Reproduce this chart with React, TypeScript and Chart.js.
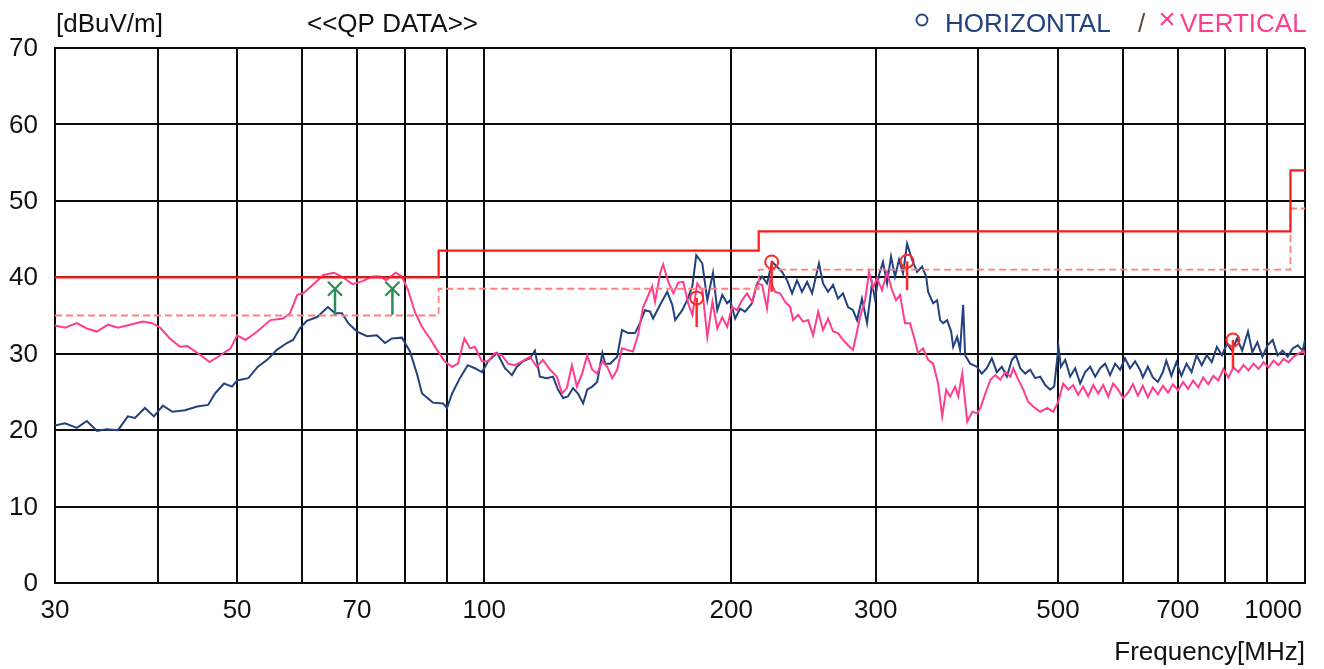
import React, { useEffect, useRef } from 'react';
import { Chart, registerables } from 'chart.js';

Chart.register(...registerables);

// ---------- data ----------
const xGridFreqs = [30, 40, 50, 60, 70, 80, 90, 100, 200, 300, 400, 500, 600, 700, 800, 900, 1000];
const xLabelFreqs = [30, 50, 70, 100, 200, 300, 500, 700, 1000];
const xLabelTexts = ['30', '50', '70', '100', '200', '300', '500', '700', '1000'];
const yTickValues = [0, 10, 20, 30, 40, 50, 60, 70];

const limitFreq = [30, 88, 88, 216, 216, 960, 960, 1000];
const limitLevel = [40, 40, 43.5, 43.5, 46, 46, 54, 54];
const marginLevel = [35, 35, 38.5, 38.5, 41, 41, 49, 49];

const hMarkFreq = [181.5, 224, 327.5, 817];
const hMarkLevel = [37.3, 42.0, 42.1, 31.8];
const hMarkLow = [33.5, 38.1, 38.3, 28.1];
const vMarkFreq = [65.8, 77.3];
const vMarkLevel = [38.5, 38.5];
const vMarkLow = [35.1, 35.1];

const hFreq = [
  30.0, 30.85, 31.9, 32.8, 33.75, 34.7, 35.8, 36.8, 37.55, 38.6,
  39.6, 40.6, 41.7, 43.2, 44.7, 46.1, 47.0, 48.2, 49.3, 50.0,
  51.6, 53.0, 54.4, 55.9, 57.5, 58.5, 59.6, 60.8, 62.6, 64.5,
  65.8, 67.1, 68.3, 70.0, 72.0, 74.0, 75.7, 77.2, 79.4, 81.2,
  82.8, 84.0, 86.6, 89.1, 90.1, 91.4, 93.4, 95.5, 97.4, 99.4,
  101.1, 103.7, 106.0, 108.1, 109.6, 111.5, 113.7, 115.3, 116.9, 119.2,
  121.3, 123.0, 124.8, 126.5, 128.3, 130.1, 132.0, 133.5, 135.4, 137.3,
  139.3, 140.4, 142.4, 145.2, 147.2, 149.7, 152.7, 154.8, 157.0, 159.3,
  160.6, 163.8, 167.1, 169.5, 170.9, 174.3, 176.7, 179.3, 181.3, 184.4,
  187.0, 190.0, 192.3, 195.0, 197.7, 199.3, 202.2, 205.0, 207.9, 212.0,
  215.0, 218.1, 221.1, 224.3, 227.4, 230.6, 233.9, 237.2, 240.5, 243.9,
  247.4, 250.9, 253.0, 255.8, 258.7, 262.4, 266.1, 269.8, 273.6, 277.5,
  281.4, 284.6, 288.6, 292.7, 296.8, 299.3, 302.7, 306.1, 309.6, 313.1,
  316.6, 320.2, 323.8, 327.5, 332.1, 336.8, 341.6, 345.5, 347.4, 352.3,
  356.3, 359.3, 362.4, 366.5, 370.6, 372.7, 376.9, 380.0, 383.3, 385.4,
  390.9, 398.3, 403.9, 409.6, 415.4, 421.3, 427.3, 433.3, 439.5, 444.4,
  449.8, 456.2, 462.6, 469.2, 475.8, 482.5, 489.3, 494.8, 500.8, 504.2,
  510.3, 517.5, 524.8, 532.2, 539.7, 547.3, 555.1, 562.9, 570.8, 578.9,
  587.0, 595.3, 603.6, 612.1, 620.8, 629.5, 634.5, 643.5, 652.6, 661.9,
  671.3, 677.6, 687.4, 697.1, 707.0, 717.2, 727.5, 737.8, 748.5, 759.1,
  769.9, 781.0, 792.1, 803.4, 815.0, 826.6, 838.4, 852.2, 862.6, 874.9,
  887.5, 900.3, 913.3, 926.2, 939.4, 952.6, 966.1, 979.9, 993.8, 1000,
];
const hLevel = [
  20.6, 20.9, 20.3, 21.2, 19.9, 20.1, 20.0, 21.8, 21.6, 22.9,
  21.8, 23.2, 22.4, 22.6, 23.1, 23.3, 24.8, 26.1, 25.7, 26.5,
  26.8, 28.3, 29.2, 30.5, 31.4, 31.8, 33.3, 34.3, 34.8, 36.1,
  35.3, 35.3, 34.0, 32.9, 32.3, 32.4, 31.4, 32.0, 32.1, 30.3,
  27.4, 24.8, 23.6, 23.5, 22.9, 24.8, 26.8, 28.5, 28.1, 27.6,
  29.0, 30.1, 28.1, 27.2, 28.3, 29.0, 29.4, 30.4, 27.0, 26.8,
  27.0, 25.3, 24.2, 24.4, 25.5, 24.8, 23.5, 25.3, 25.7, 26.3,
  30.1, 28.7, 28.7, 29.6, 33.1, 32.7, 32.7, 34.0, 35.7, 35.5,
  34.6, 36.4, 38.1, 36.4, 34.4, 35.7, 37.0, 38.8, 42.9, 41.8,
  37.0, 40.6, 35.7, 37.7, 36.6, 37.0, 34.6, 35.9, 35.5, 36.6,
  39.2, 40.1, 39.2, 42.0, 41.4, 40.7, 39.6, 37.9, 39.6, 38.1,
  39.4, 37.9, 39.6, 41.8, 39.2, 38.1, 39.0, 37.2, 37.9, 36.1,
  35.7, 34.4, 37.2, 34.0, 39.2, 37.2, 40.3, 42.0, 39.2, 42.7,
  40.1, 42.3, 40.5, 44.4, 42.3, 40.7, 41.4, 40.1, 38.1, 36.6,
  37.0, 34.4, 34.0, 34.4, 32.9, 30.9, 32.2, 30.5, 36.4, 29.8,
  28.7, 28.3, 27.4, 28.1, 29.4, 27.6, 28.3, 27.0, 29.2, 29.8,
  28.1, 27.4, 27.9, 26.8, 27.0, 25.9, 25.3, 25.7, 30.9, 28.3,
  29.2, 27.0, 28.1, 26.1, 27.6, 28.3, 27.0, 28.1, 28.7, 27.2,
  28.7, 27.9, 29.4, 28.1, 29.0, 27.9, 26.9, 28.3, 26.9, 26.3,
  27.6, 29.1, 27.1, 28.9, 27.1, 28.7, 27.6, 29.8, 28.5, 29.8,
  28.9, 30.9, 29.8, 31.3, 30.4, 32.0, 30.4, 32.9, 30.2, 31.5,
  29.6, 31.1, 31.8, 29.8, 30.4, 29.6, 30.7, 31.1, 30.4, 31.8,
];

const vFreq = [
  30.0, 30.85, 31.9, 32.8, 33.75, 34.8, 35.8, 37.0, 38.4, 39.4,
  40.3, 41.4, 42.6, 43.5, 45.0, 46.3, 47.7, 49.1, 50.0, 51.2,
  52.9, 54.9, 56.9, 58.0, 59.2, 60.2, 61.8, 63.7, 65.6, 67.1,
  69.1, 71.1, 73.1, 74.8, 75.9, 78.0, 79.4, 80.8, 82.3, 84.0,
  85.9, 87.6, 89.5, 91.4, 92.9, 94.6, 96.1, 97.4, 99.4, 101.1,
  103.1, 105.1, 106.9, 109.0, 111.2, 113.7, 115.9, 117.9, 120.3, 122.6,
  124.4, 126.1, 127.9, 129.7, 131.6, 133.5, 135.4, 137.3, 139.3, 141.2,
  143.2, 145.2, 147.2, 149.3, 151.8, 154.0, 156.1, 158.4, 160.2, 161.5,
  163.8, 165.2, 167.6, 170.0, 172.4, 174.8, 177.3, 179.3, 181.8, 184.4,
  187.0, 189.7, 192.3, 195.0, 197.7, 200.4, 203.2, 206.1, 209.0, 212.0,
  215.0, 218.1, 221.1, 223.0, 226.2, 229.3, 232.6, 235.9, 237.9, 241.2,
  244.6, 248.1, 251.6, 255.2, 258.7, 262.4, 266.1, 269.8, 273.6, 277.5,
  281.4, 284.6, 287.0, 291.1, 294.4, 297.6, 301.0, 305.3, 309.6, 314.0,
  317.5, 321.1, 325.6, 330.2, 333.9, 337.7, 342.5, 347.4, 352.3, 357.3,
  361.4, 365.5, 369.6, 374.8, 378.0, 382.3, 387.7, 393.2, 398.8, 402.2,
  407.9, 413.7, 419.5, 425.4, 431.4, 437.5, 441.2, 447.4, 453.7, 460.1,
  466.5, 475.8, 485.3, 493.5, 500.4, 507.4, 514.6, 521.9, 529.2, 536.7,
  544.3, 552.0, 559.8, 567.7, 575.7, 583.8, 592.0, 600.4, 608.8, 617.0,
  625.7, 634.5, 643.5, 652.6, 661.9, 671.3, 680.9, 690.6, 700.3, 710.4,
  720.4, 730.7, 741.1, 751.6, 762.3, 773.2, 784.1, 795.3, 806.6, 818.0,
  829.6, 841.4, 853.3, 865.4, 877.7, 890.1, 902.7, 915.5, 928.5, 941.6,
  955.0, 968.6, 982.3, 996.2, 1000,
];
const vLevel = [
  33.7, 33.4, 34.0, 33.3, 32.9, 33.8, 33.4, 33.8, 34.2, 34.0,
  33.4, 32.0, 30.9, 31.0, 29.9, 28.9, 29.8, 30.7, 32.4, 31.8,
  32.9, 34.4, 34.6, 35.3, 37.7, 37.9, 39.0, 40.3, 40.6, 40.1,
  39.1, 39.5, 40.1, 40.1, 39.6, 40.6, 40.1, 38.3, 35.5, 33.5,
  32.0, 30.5, 29.0, 28.3, 28.7, 32.0, 30.7, 30.9, 29.0, 29.0,
  30.1, 29.8, 28.7, 28.5, 29.0, 29.6, 28.3, 29.2, 27.9, 27.0,
  24.8, 25.5, 28.5, 25.7, 27.4, 29.8, 27.9, 27.4, 29.0, 28.3,
  26.8, 27.9, 30.7, 30.5, 30.3, 32.5, 36.0, 37.6, 38.8, 36.8,
  40.5, 41.7, 39.4, 37.9, 39.3, 39.4, 36.5, 35.1, 39.2, 38.3,
  32.2, 36.8, 33.3, 34.8, 33.5, 36.1, 35.7, 37.0, 37.9, 36.8,
  39.2, 39.0, 35.9, 39.6, 38.1, 37.9, 36.8, 36.1, 34.4, 35.1,
  34.2, 34.4, 32.4, 35.5, 33.1, 34.6, 32.9, 32.7, 31.8, 31.1,
  30.5, 32.9, 34.8, 37.0, 40.7, 38.6, 39.9, 38.3, 40.7, 38.3,
  37.0, 37.7, 34.0, 34.0, 32.2, 30.1, 30.7, 29.2, 28.7, 26.1,
  21.8, 25.3, 24.4, 25.7, 24.4, 27.4, 21.1, 22.4, 22.2, 22.9,
  24.8, 26.6, 27.2, 26.6, 27.6, 27.0, 28.1, 26.6, 25.3, 23.7,
  23.1, 22.4, 22.9, 22.4, 23.7, 26.1, 25.3, 25.9, 24.6, 25.7,
  24.4, 25.9, 24.8, 25.9, 24.4, 26.1, 25.3, 24.2, 24.9, 26.0,
  24.5, 25.8, 24.3, 25.6, 24.7, 25.8, 24.9, 26.0, 25.2, 26.3,
  25.4, 26.5, 25.6, 26.9, 26.0, 27.1, 26.5, 28.0, 26.9, 28.2,
  27.6, 28.5, 27.8, 28.7, 28.0, 28.9, 28.2, 29.1, 28.5, 29.3,
  28.9, 29.6, 30.0, 30.4, 29.8,
];

// ---------- styles ----------
const FONT = '"Liberation Sans", Arial, sans-serif';
const FS = 26;
const TEXT_COLOR = '#111';
const H_COLOR = '#22427f';
const V_COLOR = '#ff3d8e';
const LIMIT_COLOR = '#ff1a1a';
const MARGIN_COLOR = '#ff8080';
const MARK_GREEN = '#2e8b57';
const MARK_RED = '#ff2a2a';
const GRID_COLOR = '#0d0d0d';

const zip = (xs: number[], ys: number[]) => xs.map((x, i) => ({ x, y: ys[i] }));

const textPlugin = {
  id: 'emiTexts',
  afterDraw(chart: any) {
    const ctx = chart.ctx as CanvasRenderingContext2D;
    const xs = chart.scales.x;
    const ys = chart.scales.y;
    const area = chart.chartArea;
    ctx.save();
    ctx.font = `${FS}px ${FONT}`;
    ctx.fillStyle = TEXT_COLOR;
    ctx.textBaseline = 'middle';

    // y tick labels
    ctx.textAlign = 'right';
    yTickValues.forEach((v) => {
      ctx.fillText(String(v), area.left - 17, ys.getPixelForValue(v) + 1);
    });

    // x tick labels
    xLabelFreqs.forEach((f, i) => {
      const px = xs.getPixelForValue(f);
      if (i === xLabelFreqs.length - 1) {
        ctx.textAlign = 'right';
        ctx.fillText(xLabelTexts[i], px - 3, area.bottom + 28);
      } else {
        ctx.textAlign = 'center';
        ctx.fillText(xLabelTexts[i], px, area.bottom + 28);
      }
    });

    // axis title
    ctx.textAlign = 'right';
    ctx.fillText('Frequency[MHz]', area.right, area.bottom + 70);

    // header
    ctx.textAlign = 'left';
    ctx.fillText('[dBuV/m]', area.left + 1, 25);
    ctx.fillText('<<QP DATA>>', 307, 25);

    // legend
    ctx.strokeStyle = H_COLOR;
    ctx.lineWidth = 1.8;
    ctx.beginPath();
    ctx.arc(922, 20, 5.5, 0, Math.PI * 2);
    ctx.stroke();
    ctx.fillStyle = H_COLOR;
    ctx.fillText('HORIZONTAL', 945, 25);
    ctx.fillStyle = '#5a4a3a';
    ctx.fillText('/', 1138, 25);
    ctx.fillStyle = V_COLOR;
    ctx.font = `30px ${FONT}`;
    ctx.textAlign = 'center';
    ctx.fillText('\u00d7', 1167, 21);
    ctx.textAlign = 'left';
    ctx.font = `${FS}px ${FONT}`;
    ctx.fillText('VERTICAL', 1180, 25);
    ctx.restore();
  },
};

export default function App() {
  const canvasRef = useRef<HTMLCanvasElement | null>(null);

  useEffect(() => {
    document.body.style.margin = '0';
    const canvas = canvasRef.current;
    if (!canvas) return;

    const markLines: any[] = [];
    hMarkFreq.forEach((f, i) => {
      markLines.push({
        data: [{ x: f, y: hMarkLevel[i] }, { x: f, y: hMarkLow[i] }],
        borderColor: MARK_RED,
        borderWidth: 2.5,
        pointRadius: 0,
        order: 1,
      });
    });
    vMarkFreq.forEach((f, i) => {
      markLines.push({
        data: [{ x: f, y: vMarkLevel[i] }, { x: f, y: vMarkLow[i] }],
        borderColor: MARK_GREEN,
        borderWidth: 2.5,
        pointRadius: 0,
        order: 1,
      });
    });

    const chart = new Chart(canvas, {
      type: 'line',
      data: {
        datasets: [
          {
            label: 'HORIZONTAL',
            data: zip(hFreq, hLevel),
            borderColor: H_COLOR,
            borderWidth: 2,
            pointRadius: 0,
            order: 6,
          },
          {
            label: 'VERTICAL',
            data: zip(vFreq, vLevel),
            borderColor: V_COLOR,
            borderWidth: 2,
            pointRadius: 0,
            order: 5,
          },
          {
            label: 'Margin',
            data: zip(limitFreq, marginLevel),
            borderColor: MARGIN_COLOR,
            borderWidth: 1.8,
            borderDash: [7, 4],
            pointRadius: 0,
            order: 4,
          },
          {
            label: 'Limit',
            data: zip(limitFreq, limitLevel),
            borderColor: LIMIT_COLOR,
            borderWidth: 2.2,
            pointRadius: 0,
            order: 3,
          },
          ...markLines,
          {
            label: 'H QP',
            data: zip(hMarkFreq, hMarkLevel),
            showLine: false,
            pointStyle: 'circle',
            pointRadius: 6.5,
            pointBorderWidth: 2,
            pointBorderColor: MARK_RED,
            pointBackgroundColor: 'rgba(0,0,0,0)',
            order: 0,
          },
          {
            label: 'V QP',
            data: zip(vMarkFreq, vMarkLevel),
            showLine: false,
            pointStyle: 'crossRot',
            pointRadius: 10,
            pointBorderWidth: 2.2,
            pointBorderColor: MARK_GREEN,
            order: 0,
          },
        ] as any,
      },
      options: {
        animation: false,
        responsive: false,
        devicePixelRatio: 1,
        events: [],
        layout: { padding: { left: 55, right: 19, top: 48, bottom: 86 } },
        plugins: { legend: { display: false }, tooltip: { enabled: false } },
        elements: { line: { tension: 0 } },
        scales: {
          x: {
            type: 'logarithmic',
            min: 30,
            max: 1000,
            afterBuildTicks: (s: any) => {
              s.ticks = xGridFreqs.map((v) => ({ value: v }));
            },
            ticks: { display: false },
            grid: { color: GRID_COLOR, lineWidth: 2, drawTicks: false },
            border: { display: true, color: GRID_COLOR, width: 2 },
          },
          y: {
            type: 'linear',
            min: 0,
            max: 70,
            afterBuildTicks: (s: any) => {
              s.ticks = yTickValues.map((v) => ({ value: v }));
            },
            ticks: { display: false },
            grid: { color: GRID_COLOR, lineWidth: 2, drawTicks: false },
            border: { display: true, color: GRID_COLOR, width: 2 },
          },
        } as any,
      },
      plugins: [textPlugin],
    });

    return () => chart.destroy();
  }, []);

  return (
    <div style={{ position: 'fixed', left: 0, top: 0, width: 1324, height: 669, background: '#fff' }}>
      <canvas ref={canvasRef} width={1324} height={669} style={{ display: 'block' }} />
    </div>
  );
}
